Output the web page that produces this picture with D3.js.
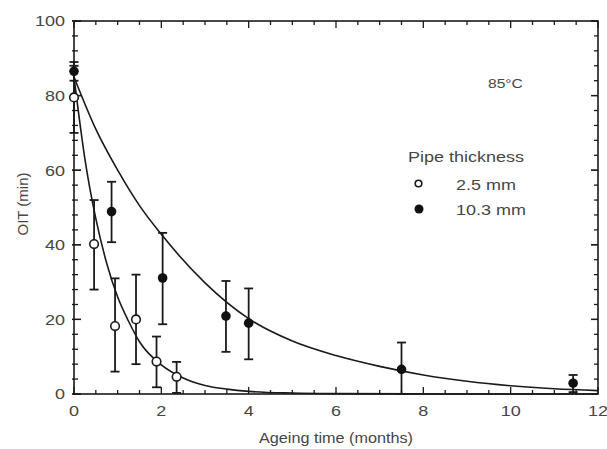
<!DOCTYPE html>
<html><head><meta charset="utf-8">
<script src="https://cdn.jsdelivr.net/npm/d3@7"></script>
<style>body{margin:0;background:#fff}svg{display:block}text{font-family:"Liberation Sans",Arial,sans-serif;fill:#464646}</style>
</head><body><svg id="c" width="607" height="449"></svg>
<script>
// data
const xTicks = [0, 2, 4, 6, 8, 10, 12];
const yTicks = [0, 20, 40, 60, 80, 100];
// 2.5 mm pipe (open circles)
const openT   = [0, 0.46, 0.94, 1.42, 1.89, 2.35];
const openV   = [79.5, 40.2, 18.2, 20, 8.7, 4.6];
const openLo  = [70, 28, 6, 8, 1.8, 0.3];
const openHi  = [88, 52, 31, 32, 15.4, 8.6];
// 10.3 mm pipe (filled circles)
const fillT   = [0, 0.86, 2.03, 3.48, 4.0, 7.5, 11.43];
const fillV   = [86.5, 48.9, 31.1, 20.9, 19.0, 6.6, 2.9];
const fillLo  = [84, 40.7, 18.7, 11.3, 9.3, 0, 0.5];
const fillHi  = [89, 56.9, 43.2, 30.3, 28.3, 13.8, 5.1];
// fitted curves
const openFitT = [0, 0.25, 0.5, 0.75, 1, 1.25, 1.5, 2, 2.5, 3, 3.5, 4, 5, 6, 8, 10, 12];
const openFitV = [85, 63, 47, 35, 26, 19.5, 14, 7.8, 4.3, 2.3, 1.3, 0.7, 0.25, 0.1, 0.02, 0, 0];
const fillFitT = [0, 0.5, 1, 1.5, 2, 3, 4, 5, 6, 7, 8, 9, 10, 11, 12];
const fillFitV = [85, 71, 60, 50.5, 42.8, 29.8, 20.2, 14.2, 10.3, 7.4, 5.1, 3.4, 2.2, 1.4, 0.9];
const tempLabel = "85°C";
const legendTitle = "Pipe thickness";
const legendNames = ["2.5 mm", "10.3 mm"];

const svg = d3.select("#c");
const L = 74, R = 598, T = 21, B = 394;
const x = d3.scaleLinear().domain([0, 12]).range([L, R]);
const y = d3.scaleLinear().domain([0, 100]).range([B, T]);
const ink = "#1a1a1a";

function label(px, py, str, size, anchor, sx) {
  return svg.append("text")
    .attr("transform", `translate(${px},${py}) scale(${sx || 1.2},1)`)
    .attr("text-anchor", anchor || "start").attr("font-size", size).text(str);
}

// minor + major ticks on all four sides, pointing inward
const g = svg.append("g");
const xMinor = d3.range(0, 12.01, 0.5);
const yMinor = d3.range(0, 100.1, 4);
function tickLine(x1, y1, x2, y2, w) {
  g.append("line").attr("x1", x1).attr("y1", y1).attr("x2", x2).attr("y2", y2)
    .attr("stroke", ink).attr("stroke-width", w);
}
xMinor.forEach(v => {
  const isMaj = xTicks.includes(v);
  const len = isMaj ? 7 : 4;
  tickLine(x(v), B, x(v), B - len, 1.3);
  tickLine(x(v), T, x(v), T + len, 1.3);
});
yMinor.concat(yTicks).forEach(v => {
  const isMaj = yTicks.includes(v);
  const len = isMaj ? 7 : 4;
  tickLine(L - 2, y(v), L + len, y(v), 1.3);
  tickLine(R, y(v), R - len, y(v), 1.3);
});
// frame
svg.append("rect").attr("x", L).attr("y", T).attr("width", R - L).attr("height", B - T)
  .attr("fill", "none").attr("stroke", ink).attr("stroke-width", 1.6);

// tick labels placed through the scales
xTicks.forEach(v => label(x(v), 416, d3.format("d")(v), 15, "middle"));
yTicks.forEach(v => label(65, y(v) + 5.3, d3.format("d")(v), 15, "end"));

label(336, 443, "Ageing time (months)", 15, "middle", 1.08);
svg.append("text").attr("transform", "translate(28,204) rotate(-90)").attr("text-anchor", "middle")
  .attr("font-size", 15).text("OIT (min)");

// curves
const line = d3.line().x(d => x(d[0])).y(d => y(d[1])).curve(d3.curveMonotoneX);
svg.append("path").datum(openFitT.map((t, i) => [t, openFitV[i]]))
  .attr("d", line).attr("fill", "none").attr("stroke", ink).attr("stroke-width", 1.6);
svg.append("path").datum(fillFitT.map((t, i) => [t, fillFitV[i]]))
  .attr("d", line).attr("fill", "none").attr("stroke", ink).attr("stroke-width", 1.6);

// error bars
function errBars(T_, lo, hi) {
  const eg = svg.append("g").attr("stroke", ink).attr("stroke-width", 1.8);
  T_.forEach((t, i) => {
    eg.append("line").attr("x1", x(t)).attr("x2", x(t)).attr("y1", y(lo[i])).attr("y2", y(hi[i]));
    [lo[i], hi[i]].forEach(v => {
      eg.append("line").attr("x1", x(t) - 4.5).attr("x2", x(t) + 4.5).attr("y1", y(v)).attr("y2", y(v));
    });
  });
}
errBars(fillT, fillLo, fillHi);
errBars(openT, openLo, openHi);

// points
svg.append("g").selectAll("circle").data(fillT).join("circle")
  .attr("cx", d => x(d)).attr("cy", (d, i) => y(fillV[i])).attr("r", 4.8).attr("fill", "#111");
svg.append("g").selectAll("circle").data(openT).join("circle")
  .attr("cx", d => x(d)).attr("cy", (d, i) => y(openV[i])).attr("r", 4.3)
  .attr("fill", "#fff").attr("stroke", ink).attr("stroke-width", 1.6);

// annotations and legend
label(488, 88, tempLabel, 13);
label(408, 162, legendTitle, 15);
svg.append("circle").attr("cx", 418.5).attr("cy", 183.5).attr("r", 3.3).attr("fill", "#fff")
  .attr("stroke", ink).attr("stroke-width", 1.6);
svg.append("circle").attr("cx", 419).attr("cy", 209).attr("r", 4.5).attr("fill", "#111");
label(456, 190, legendNames[0], 15);
label(456, 215, legendNames[1], 15);
</script></body></html>
